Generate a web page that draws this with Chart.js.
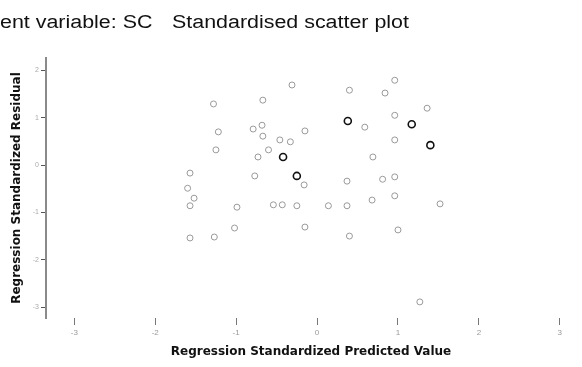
<!DOCTYPE html>
<html>
<head>
<meta charset="utf-8">
<script src="https://cdn.jsdelivr.net/npm/chart.js@4"></script>
<style>
  html, body { margin: 0; padding: 0; background: #fff; }
  #wrap { position: relative; width: 582px; height: 367px; overflow: hidden; }
  .head {
    position: absolute; top: 12px;
    font-family: "Liberation Sans", Arial, sans-serif; font-size: 18px; color: #111;
    white-space: pre; transform-origin: 0 0; transform: scaleX(1.19);
  }
  canvas { position: absolute; left: 0; top: 0; }
</style>
</head>
<body>
<div id="wrap">
  <canvas id="scatter" width="582" height="367"></canvas>
  <div class="head" style="left:0">ent variable: SC</div>
  <div class="head" style="left:172px">Standardised scatter plot</div>
</div>
<script>
// standardized predicted value vs standardized residual, one entry per case
const predicted = [
  -0.31, 0.40, -1.28, -0.67, 0.38, -0.68, -0.79, -1.22, -0.67, -0.46,
  -0.33, -0.15, -1.25, -0.60, -0.73, -0.42, -1.57, -0.77, -0.25, -0.16,
   0.37, -1.60, -1.52, -1.57, -0.99, -0.54, -0.43, -0.25, 0.14, 0.37,
  -1.02, -0.15, 0.40, -1.57, -1.27, 0.96, 0.84, 1.36, 0.59, 0.96,
   1.17, 0.96, 1.40, 0.69, 0.96, 0.81, 0.96, 0.68, 1.52, 1.00,
   1.27
];
const residual = [
   1.69, 1.58, 1.29, 1.37, 0.93, 0.84, 0.76, 0.70, 0.61, 0.53,
   0.49, 0.72, 0.32, 0.32, 0.17, 0.17, -0.17, -0.23, -0.23, -0.42,
  -0.34, -0.49, -0.70, -0.86, -0.89, -0.84, -0.84, -0.86, -0.86, -0.86,
  -1.33, -1.31, -1.50, -1.54, -1.52, 1.79, 1.52, 1.20, 0.80, 1.05,
   0.86, 0.53, 0.42, 0.17, -0.25, -0.30, -0.65, -0.74, -0.82, -1.37,
  -2.89
];
const xTicks = [-3, -2, -1, 0, 1, 2, 3];
const yTicks = [2, 1, 0, -1, -2, -3];

// cases drawn with a heavier outline
const heavyCases = [4, 15, 18, 40, 42];

const points = predicted.map((x, i) => ({ x: x, y: residual[i] }));
const isHeavy = ctx => heavyCases.includes(ctx.dataIndex);

const titleFont = { family: 'DejaVu Sans', weight: 'bold', size: 12 };

new Chart(document.getElementById('scatter'), {
  type: 'scatter',
  data: {
    datasets: [{
      data: points,
      pointStyle: 'circle',
      pointRadius: ctx => isHeavy(ctx) ? 3.5 : 3,
      pointBorderWidth: ctx => isHeavy(ctx) ? 1.6 : 1,
      pointBorderColor: ctx => isHeavy(ctx) ? '#111' : '#999',
      pointBackgroundColor: 'rgba(0,0,0,0)'
    }]
  },
  options: {
    responsive: false,
    animation: false,
    devicePixelRatio: 1,
    layout: { padding: { left: 0, top: 58, right: 6, bottom: 0 } },
    plugins: { legend: { display: false }, tooltip: { enabled: false } },
    scales: {
      x: {
        type: 'linear', min: -3.35, max: 3.2,
        afterBuildTicks: s => { s.ticks = xTicks.map(v => ({ value: v })); },
        afterFit: s => { s.height = 49; },
        border: { display: false },
        grid: { drawOnChartArea: false, tickLength: 7, color: '#777' },
        ticks: { font: { size: 8 }, color: '#999', padding: 3 },
        title: { display: true, text: 'Regression Standardized Predicted Value', font: titleFont, color: '#111', padding: { top: 8, bottom: 8 } }
      },
      y: {
        type: 'linear', min: -3.23, max: 2.26,
        afterBuildTicks: s => { s.ticks = yTicks.map(v => ({ value: v })); },
        afterFit: s => { s.width = 46; },
        border: { display: true, color: '#8a8a8a', width: 2 },
        grid: { drawOnChartArea: false, tickLength: 5, color: '#555' },
        ticks: { font: { size: 7 }, color: '#aaa', padding: 2 },
        title: { display: true, text: 'Regression Standardized Residual', font: titleFont, color: '#111', padding: { top: 10, bottom: 10 } }
      }
    }
  }
});
</script>
</body>
</html>
